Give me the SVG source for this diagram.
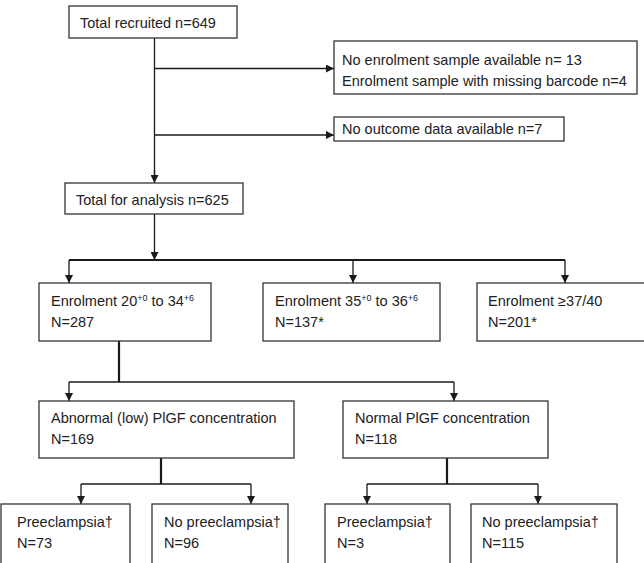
<svg xmlns="http://www.w3.org/2000/svg" width="644" height="563" viewBox="0 0 644 563">
<defs>
<marker id="ah" markerWidth="8" markerHeight="8" refX="8" refY="4" orient="auto" markerUnits="userSpaceOnUse">
<path d="M0,0 L8,4 L0,8 Z" fill="#1a1a1a"/>
</marker>
<style>
.box{fill:#fff;stroke:#333;stroke-width:1.3}
.t{font-family:"Liberation Sans",Arial,sans-serif;font-size:14.5px;fill:#222}
.sup{font-size:9px}
.ln{fill:none;stroke:#1a1a1a;stroke-width:1.3}
.thick{fill:none;stroke:#1a1a1a;stroke-width:2.2}
.ar{fill:none;stroke:#1a1a1a;stroke-width:1.3;marker-end:url(#ah)}
</style>
</defs>
<rect width="644" height="563" fill="#fff"/>
<g id="connectors">
<path class="ln" d="M154.5,38 V175"/>
<path class="ar" d="M154.5,170 V183"/>
<path class="ar" d="M154.5,68.5 H334"/>
<path class="ar" d="M154.5,135 H334"/>
<path class="ar" d="M154.5,214 V260"/>
<path class="thick" d="M69,260 H565"/>
<path class="ar" d="M69,260 V283"/>
<path class="ar" d="M353,260 V283"/>
<path class="ar" d="M565,260 V283"/>
<path class="thick" d="M119,341 V382"/>
<path class="ln" d="M69,382 H454"/>
<path class="ar" d="M69,382 V401"/>
<path class="ar" d="M454,382 V401"/>
<path class="thick" d="M161,458 V484"/>
<path class="ln" d="M81,484 H251"/>
<path class="ar" d="M81,484 V504"/>
<path class="ar" d="M251,484 V504"/>
<path class="thick" d="M447,458 V484"/>
<path class="ln" d="M367,484 H538"/>
<path class="ar" d="M367,484 V504"/>
<path class="ar" d="M538,484 V504"/>
</g>
<g id="recruited">
<rect class="box" x="69" y="6" width="168" height="32"/>
<text class="t" x="80" y="28">Total recruited n=649</text>
</g>
<g id="excluded1">
<rect class="box" x="334" y="41" width="303" height="53"/>
<text class="t" x="342" y="65">No enrolment sample available n= 13</text>
<text class="t" x="342" y="86">Enrolment sample with missing barcode n=4</text>
</g>
<g id="excluded2">
<rect class="box" x="334" y="117" width="230" height="24"/>
<text class="t" x="342" y="134">No outcome data available n=7</text>
</g>
<g id="analysis">
<rect class="box" x="65" y="183" width="178" height="31"/>
<text class="t" x="76" y="205">Total for analysis n=625</text>
</g>
<g id="enrol1">
<rect class="box" x="39" y="283" width="172" height="58"/>
<text class="t" x="51" y="306">Enrolment 20<tspan class="sup" dy="-5">+0</tspan><tspan dy="5"> to 34</tspan><tspan class="sup" dy="-5">+6</tspan></text>
<text class="t" x="51" y="327">N=287</text>
</g>
<g id="enrol2">
<rect class="box" x="263" y="283" width="177" height="58"/>
<text class="t" x="275" y="306">Enrolment 35<tspan class="sup" dy="-5">+0</tspan><tspan dy="5"> to 36</tspan><tspan class="sup" dy="-5">+6</tspan></text>
<text class="t" x="275" y="327">N=137*</text>
</g>
<g id="enrol3">
<rect class="box" x="477" y="283" width="170" height="58"/>
<text class="t" x="488" y="306">Enrolment ≥37/40</text>
<text class="t" x="488" y="327">N=201*</text>
</g>
<g id="abnormal">
<rect class="box" x="39" y="401" width="255" height="57"/>
<text class="t" x="51" y="423">Abnormal (low) PlGF concentration</text>
<text class="t" x="51" y="444">N=169</text>
</g>
<g id="normal">
<rect class="box" x="343" y="401" width="205" height="57"/>
<text class="t" x="355" y="423">Normal PlGF concentration</text>
<text class="t" x="355" y="444">N=118</text>
</g>
<g id="pe1">
<rect class="box" x="1" y="504" width="129" height="60"/>
<text class="t" x="17" y="527">Preeclampsia†</text>
<text class="t" x="17" y="548">N=73</text>
</g>
<g id="nope1">
<rect class="box" x="152" y="504" width="136" height="60"/>
<text class="t" x="164" y="527">No preeclampsia†</text>
<text class="t" x="164" y="548">N=96</text>
</g>
<g id="pe2">
<rect class="box" x="325" y="504" width="125" height="60"/>
<text class="t" x="337" y="527">Preeclampsia†</text>
<text class="t" x="337" y="548">N=3</text>
</g>
<g id="nope2">
<rect class="box" x="471" y="504" width="146" height="60"/>
<text class="t" x="482" y="527">No preeclampsia†</text>
<text class="t" x="482" y="548">N=115</text>
</g>
</svg>
